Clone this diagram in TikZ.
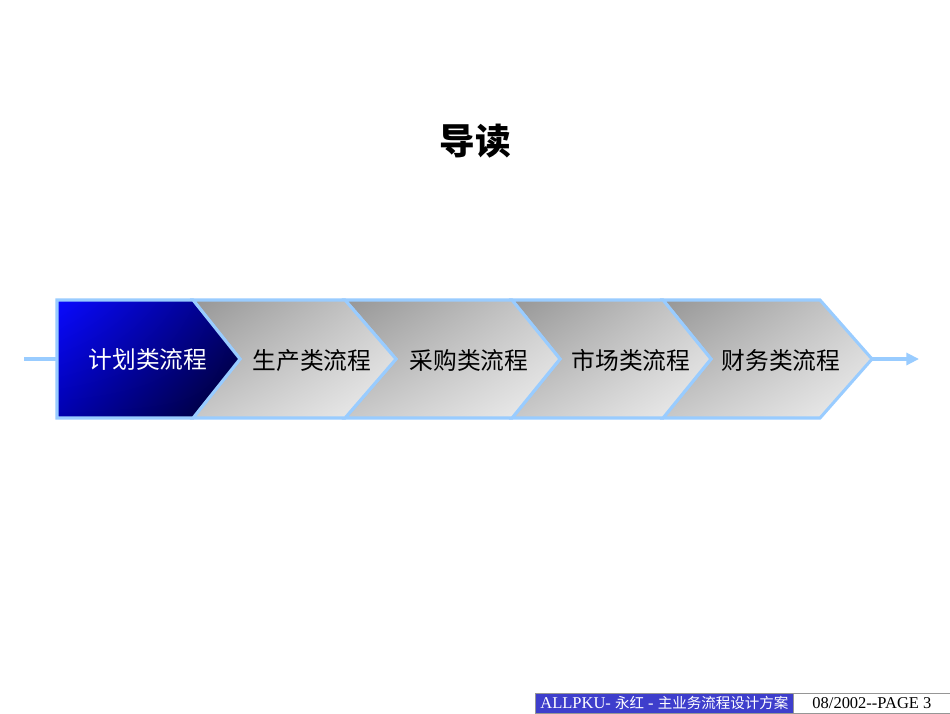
\documentclass[tikz,border=0pt]{standalone}
\usepackage{fontspec}
\setmainfont{Liberation Serif}
\newfontfamily\cjk{Noto Sans CJK SC}
\usetikzlibrary{arrows.meta,shadings}
\definecolor{edgeblue}{RGB}{153,204,255}
\definecolor{bUL}{RGB}{10,10,255}
\definecolor{bUR}{RGB}{0,0,120}
\definecolor{bLL}{RGB}{0,0,175}
\definecolor{bLR}{RGB}{0,0,40}
\definecolor{gUL}{RGB}{150,150,150}
\definecolor{gUR}{RGB}{205,205,205}
\definecolor{gLL}{RGB}{200,200,200}
\definecolor{gLR}{RGB}{240,240,240}
\definecolor{footblue}{RGB}{62,62,204}
\definecolor{footedge}{RGB}{150,150,150}
\newcommand\fcjk[1]{{\cjk\fontsize{11}{13}\selectfont #1}}
\tikzset{
  chevfirst/.style={upper left=bUL, upper right=bUR, lower left=bLL, lower right=bLR, draw=edgeblue, line width=2.3pt, line join=miter},
  chevgray/.style={upper left=gUL, upper right=gUR, lower left=gLL, lower right=gLR, draw=edgeblue, line width=2.3pt, line join=miter},
  lbl/.style={font=\cjk\fontsize{18}{20}\selectfont, inner sep=0pt},
  conn/.style={draw=edgeblue, line width=2.3pt},
  footbox/.style={draw=footedge, line width=0.6pt, inner sep=0pt, minimum height=19.5*0.75789pt, font=\fontsize{12.5}{14}\selectfont}
}
\begin{document}
\begin{tikzpicture}[x=0.75789pt,y=-0.75789pt]
\useasboundingbox[fill=white] (0,0) rectangle (950,713);
% title
\node[font=\cjk\bfseries\fontsize{27}{30}\selectfont, inner sep=0pt] (title) at (475,141) {导读};
% chevrons
\shadedraw[chevgray] (663,300) -- (820,300) -- (872,359) -- (820,418) -- (663,418) -- (711,359) -- cycle;
\shadedraw[chevgray] (512,300) -- (663,300) -- (711,359) -- (663,418) -- (512,418) -- (560,359) -- cycle;
\shadedraw[chevgray] (345,300) -- (512,300) -- (560,359) -- (512,418) -- (345,418) -- (396,359) -- cycle;
\shadedraw[chevgray] (193,300) -- (345,300) -- (396,359) -- (345,418) -- (193,418) -- (240,359) -- cycle;
\shadedraw[chevfirst] (57,300) -- (193,300) -- (240,359) -- (193,418) -- (57,418) -- cycle;
% labels
\node[lbl, text=white] (c1) at (148,359) {计划类流程};
\node[lbl] (c2) at (312,361) {生产类流程};
\node[lbl] (c3) at (469,360) {采购类流程};
\node[lbl] (c4) at (631,360) {市场类流程};
\node[lbl] (c5) at (781,360) {财务类流程};
% connectors
\coordinate (lstart) at (24,359);
\coordinate (lend) at (56,359);
\coordinate (rtip) at (872,359);
\coordinate (rend) at (919,359);
\draw[conn] (lstart) -- (lend);
\draw[conn, -{Triangle[length=9.5pt,width=9pt]}] (rtip) -- (rend);
% footer
\node[footbox, fill=footblue, text=white, minimum width=258*0.75789pt, anchor=north west] (f1) at (535,693) {ALLPKU- \fcjk{永红} - \fcjk{主业务流程设计方案}};
\node[footbox, fill=white, minimum width=157*0.75789pt, anchor=north west] (f2) at (793,693) {08/2002-{}-PAGE 3};
\end{tikzpicture}
\end{document}
